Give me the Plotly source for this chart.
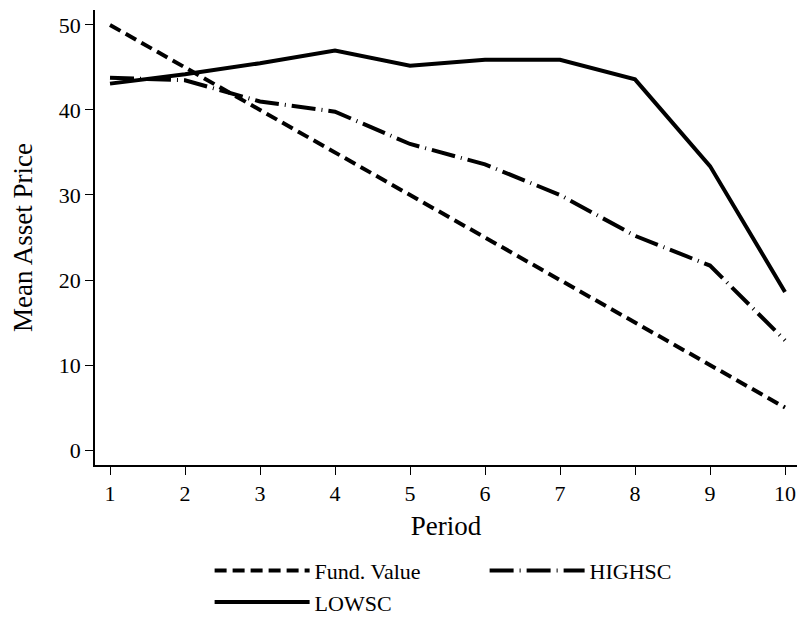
import plotly.graph_objects as go

# Data
periods = [1, 2, 3, 4, 5, 6, 7, 8, 9, 10]
fund_value = [50, 45, 40, 35, 30, 25, 20, 15, 10, 5]
highsc = [43.8, 43.5, 41.0, 39.8, 36.0, 33.6, 30.0, 25.2, 21.7, 12.9]
lowsc = [43.1, 44.2, 45.5, 47.0, 45.2, 45.9, 45.9, 43.6, 33.4, 18.6]

serif = "Liberation Serif, DejaVu Serif, serif"

fig = go.Figure()

fig.add_trace(go.Scatter(
    x=periods, y=fund_value, name='Fund. Value', mode='lines',
    line=dict(color='black', width=4, dash='12px,6px')
))
fig.add_trace(go.Scatter(
    x=periods, y=highsc, name='HIGHSC', mode='lines',
    line=dict(color='black', width=4, dash='24px,6px,1px,6px')
))
fig.add_trace(go.Scatter(
    x=periods, y=lowsc, name='LOWSC', mode='lines',
    line=dict(color='black', width=4)
))

# the page body adds an 8px margin, so the figure is kept smaller to fit
fig.update_layout(
    width=789, height=610,
    paper_bgcolor='white', plot_bgcolor='white',
    font=dict(family=serif, size=22, color='black'),
    margin=dict(l=87, r=0, t=2, b=153),
    xaxis=dict(
        title=dict(text='Period', standoff=11, font=dict(size=27)),
        range=[0.8, 10.16], tickvals=periods,
        showline=True, linecolor='black', linewidth=1.5,
        ticks='outside', ticklen=8, tickcolor='black',
        showgrid=False, zeroline=False, automargin=False,
        ticklabeloverflow='allow'
    ),
    yaxis=dict(
        title=dict(text='Mean Asset Price', standoff=22, font=dict(size=27)),
        range=[-1.76, 51.76], tickvals=[0, 10, 20, 30, 40, 50],
        showline=True, linecolor='black', linewidth=1.5,
        ticks='outside', ticklen=8, tickcolor='black',
        showgrid=False, zeroline=False, automargin=False
    ),
    legend=dict(
        orientation='h', x=0.555, xanchor='center',
        yref='container', y=0.112, yanchor='top',
        entrywidth=165, itemwidth=95, font=dict(size=22), tracegroupgap=0
    ),
    showlegend=True
)

fig.write_html("out.html")
